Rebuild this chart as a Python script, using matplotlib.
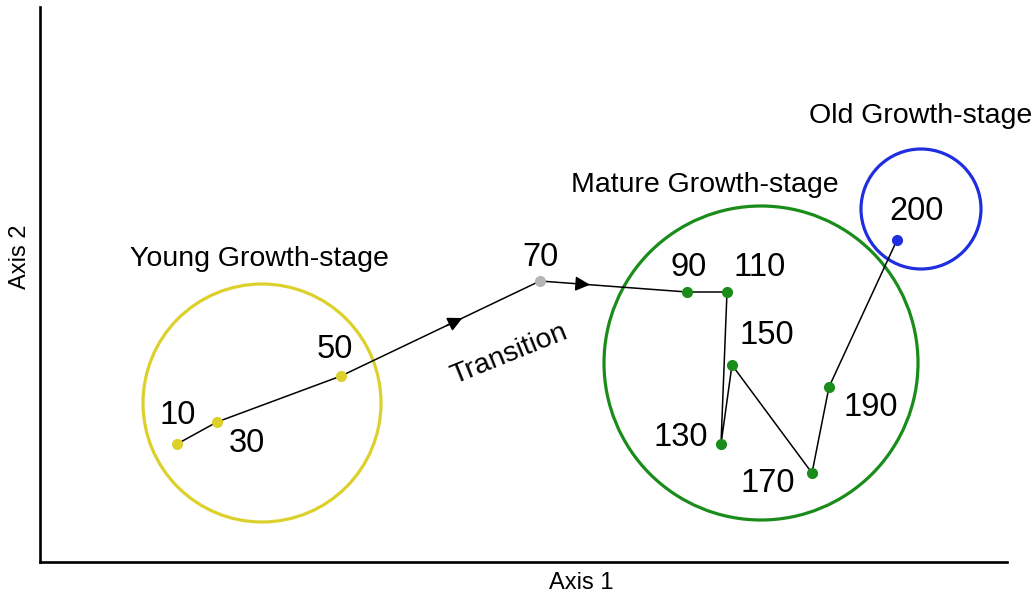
import matplotlib.pyplot as plt
import numpy as np
from matplotlib.patches import Circle

plt.rcParams['font.family'] = ['Liberation Sans', 'DejaVu Sans']

# ordination scores (arbitrary axis units)
ages = ['10', '30', '50', '70', '90', '110', '130', '150', '170', '190', '200']
axis1 = [137, 177, 301, 500, 647, 687, 681, 692, 772, 789, 857]
axis2 = [118, 140, 186, 281, 270, 270, 118, 197, 89, 175, 322]
stage = ['young', 'young', 'young', 'trans', 'mature', 'mature', 'mature',
         'mature', 'mature', 'mature', 'old']

# stage envelopes: centre x, centre y, radius
stage_names = ['young', 'mature', 'old']
env_x = [222, 721, 881]
env_y = [159, 199, 353]
env_r = [119, 157, 60]
stage_titles = ['Young Growth-stage', 'Mature Growth-stage', 'Old Growth-stage']

colors = {'young': '#dcd12c', 'trans': '#b5b5b5', 'mature': '#1a8c1a', 'old': '#1f2fe0'}

# label offsets in pixels (dx right, dy up)
label_off = [(1, 28), (30, -21), (-6, 27), (0, 24), (2, 25), (33, 25),
             (-40, 7), (35, 29), (-44, -11), (42, -20), (20, 29)]
title_pos = [(219, 296), (665, 370), (881, 439)]

fig = plt.figure(figsize=(10.34, 5.97), dpi=100)
ax = fig.add_axes([40 / 1034, 35 / 597, 967 / 1034, 555 / 597])
ax.set_xlim(0, 967)
ax.set_ylim(0, 555)

for s in ['top', 'right']:
    ax.spines[s].set_visible(False)
for s in ['left', 'bottom']:
    ax.spines[s].set_linewidth(1.9)
ax.set_xticks([])
ax.set_yticks([])

# envelopes
for name, cx, cy, r, title, tp in zip(stage_names, env_x, env_y, env_r, stage_titles, title_pos):
    ax.add_patch(Circle((cx, cy), r, fill=False, edgecolor=colors[name], lw=2.3))
    ax.text(tp[0], tp[1], title, fontsize=20.5, ha='center', va='baseline')

# trajectory
ax.plot(axis1, axis2, color='black', lw=1.1, zorder=2)

# arrows on the transition segments
for i, frac in [(2, 0.61), (3, 0.34)]:
    x0, y0 = axis1[i], axis2[i]
    x1, y1 = axis1[i + 1], axis2[i + 1]
    tip = (x0 + frac * (x1 - x0), y0 + frac * (y1 - y0))
    back = (x0 + (frac - 0.08) * (x1 - x0), y0 + (frac - 0.08) * (y1 - y0))
    ax.annotate('', xy=tip, xytext=back,
                arrowprops=dict(arrowstyle='-|>', color='black', lw=1.1,
                                mutation_scale=22, shrinkA=0, shrinkB=0))

for x, y, a, s, off in zip(axis1, axis2, ages, stage, label_off):
    ax.plot(x, y, 'o', color=colors[s], ms=7, zorder=3)
    ax.annotate(a, (x, y), xytext=off, textcoords='offset pixels',
                fontsize=23.5, ha='center', va='center')

ax.text(469, 208, 'Transition', fontsize=20.5, rotation=22,
        ha='center', va='center', rotation_mode='anchor')

fig.text(581 / 1034, 1 - 583 / 597, 'Axis 1', fontsize=17, ha='center', va='center')
fig.text(20 / 1034, 1 - 257 / 597, 'Axis 2', fontsize=17, ha='center', va='center', rotation=90)

fig.savefig('out.png', dpi=100)
